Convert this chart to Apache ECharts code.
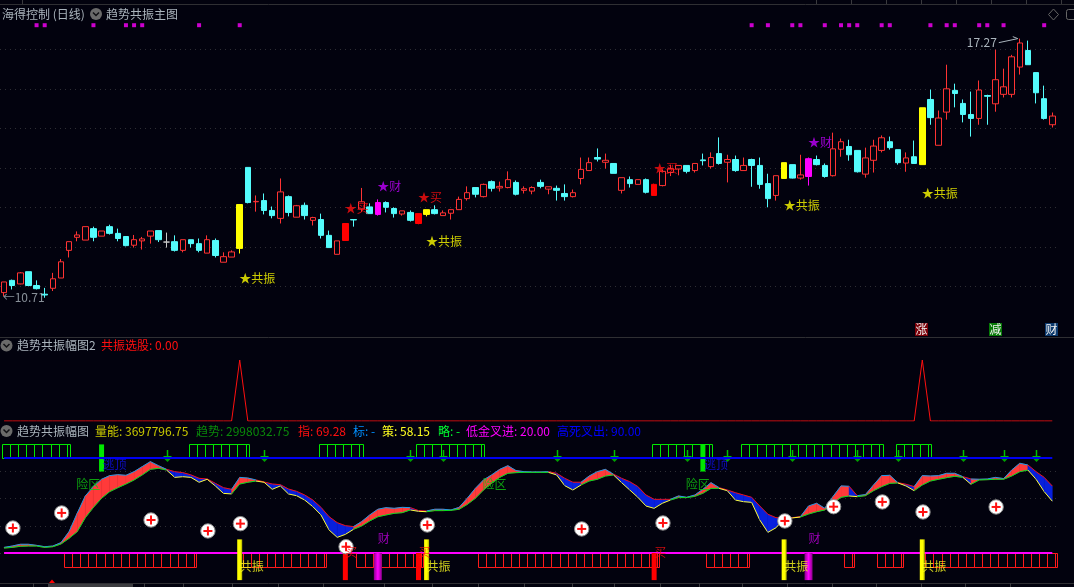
<!DOCTYPE html>
<html>
<head>
<meta charset="utf-8">
<script src="https://cdn.jsdelivr.net/npm/echarts@6/dist/echarts.min.js"></script>
<style>html,body{margin:0;padding:0;background:#02020e;overflow:hidden}#c{width:1074px;height:587px}</style>
</head>
<body>
<div id="c"></div>
<script>
// daily candles: [open, close, low, high]
const dailyCandles = [
[10.84,11.11,10.75,11.11],[11.15,11.02,10.92,11.17],[11.06,11.34,11.05,11.36],[11.37,11.02,11.0,11.37],[11.02,10.94,10.92,11.15],
[10.80,10.78,10.71,10.96],[10.95,11.19,10.88,11.34],[11.21,11.62,11.21,11.69],[11.91,12.13,11.73,12.13],[12.24,12.30,12.14,12.39],
[12.17,12.51,12.17,12.51],[12.46,12.24,12.14,12.51],[12.27,12.40,12.27,12.40],[12.51,12.34,12.31,12.56],[12.34,12.21,12.14,12.46],
[12.26,12.03,12.01,12.26],[12.04,12.18,11.98,12.30],[12.15,12.20,11.93,12.25],[12.27,12.40,12.08,12.40],[12.41,12.18,12.12,12.41],
[12.12,12.12,11.98,12.36],[12.13,11.91,11.88,12.29],[11.91,12.18,11.86,12.18],[12.18,12.08,11.98,12.18],[12.08,11.91,11.86,12.21],
[11.84,12.18,11.84,12.29],[12.16,11.78,11.73,12.21],[11.61,11.75,11.61,11.86],[11.74,11.87,11.74,11.91],[11.96,13.07,11.83,13.07],
[14.01,13.12,13.10,14.01],[13.14,13.15,12.89,13.30],[13.17,12.92,12.82,13.35],[12.92,12.79,12.72,13.02],[12.72,13.39,12.59,13.73],
[13.27,12.87,12.77,13.30],[12.75,13.04,12.75,13.06],[13.05,12.79,12.69,13.12],[12.67,12.74,12.54,12.76],[12.69,12.29,12.21,12.84],
[12.29,11.98,11.98,12.41],[11.81,12.15,11.81,12.15],[12.16,12.59,12.16,12.59],[12.69,12.68,12.51,12.69],[12.96,13.14,12.88,13.49],
[13.01,12.84,12.84,13.10],[12.82,13.12,12.79,13.20],[13.12,13.0,12.87,13.15],[12.97,12.84,12.74,13.0],[12.83,12.91,12.79,12.91],
[12.87,12.67,12.64,12.92],[12.59,12.84,12.57,12.84],[12.82,12.94,12.77,12.94],[12.94,12.84,12.82,13.05],[12.79,12.86,12.79,12.92],
[12.85,12.94,12.69,12.94],[12.94,13.20,12.94,13.27],[13.22,13.37,13.17,13.53],[13.50,13.33,13.25,13.50],[13.27,13.58,13.25,13.60],
[13.65,13.48,13.40,13.68],[13.49,13.53,13.40,13.65],[13.50,13.70,13.48,13.91],[13.63,13.33,13.30,13.68],[13.43,13.47,13.35,13.53],
[13.41,13.50,13.33,13.53],[13.63,13.53,13.48,13.70],[13.46,13.52,13.33,13.52],[13.48,13.43,13.17,13.55],[13.35,13.27,13.17,13.58],
[13.27,13.37,13.25,13.45],[13.73,13.96,13.58,14.26],[13.93,14.13,13.93,14.26],[14.26,14.22,14.16,14.49],[14.14,14.19,13.98,14.36],
[14.11,13.86,13.86,14.11],[13.43,13.75,13.35,13.75],[13.70,13.60,13.50,13.78],[13.58,13.70,13.58,13.70],[13.70,13.38,13.35,13.73],
[13.30,13.58,13.30,13.60],[13.55,13.91,13.53,13.96],[13.88,13.98,13.79,14.08],[13.97,14.06,13.81,14.06],[14.06,13.91,13.86,14.06],
[13.93,14.11,13.88,14.11],[14.20,14.18,14.06,14.36],[14.03,14.26,13.98,14.39],[14.36,14.11,14.08,14.77],[14.14,14.21,13.63,14.33],
[14.21,13.93,13.90,14.31],[13.93,14.06,13.93,14.26],[14.21,14.06,13.52,14.23],[14.06,13.58,13.47,14.26],[13.60,13.22,13.0,13.85],
[13.30,13.80,13.17,13.80],[13.73,14.13,13.73,14.13],[14.08,13.74,13.73,14.08],[13.74,13.82,13.70,14.33],[13.78,14.23,13.55,14.26],
[14.21,14.08,14.06,14.31],[14.06,13.78,13.75,14.11],[13.80,14.48,13.78,14.89],[14.47,14.66,14.28,14.74],[14.54,14.33,14.18,14.71],
[14.44,13.90,13.88,14.44],[13.84,14.25,13.75,14.51],[14.19,14.55,13.88,14.71],[14.44,14.76,14.39,14.82],[14.66,14.51,14.46,14.79],
[14.46,14.13,14.08,14.46],[14.12,14.25,13.90,14.39],[14.28,14.11,14.11,14.69],[14.08,15.52,14.08,15.52],[15.73,15.27,15.09,15.98],
[14.57,15.26,14.57,15.45],[15.41,16.0,15.22,16.61],[15.96,15.88,15.53,16.13],[15.63,15.35,15.15,15.73],[15.35,15.25,14.79,15.93],
[15.25,15.97,15.09,16.21],[15.83,15.81,15.09,15.85],[15.62,16.23,15.42,16.99],[15.86,16.05,15.78,16.51],[15.86,16.81,15.78,16.86],
[16.55,17.16,16.36,17.27],[16.97,16.61,16.61,17.22],[16.41,15.90,15.63,16.41],[15.75,15.25,15.22,16.08],[15.09,15.31,15.02,15.40]
];
const days = dailyCandles.map((_, i) => String(i));

const yellowDays = [29, 52, 96, 113];
const magentaDays = [46, 99];
const solidRedDays = [42, 51, 80];
const flatDays = [20];

// marks on the main chart
const topDotDays = [4,5,11,15,16,17,24,29,92,94,97,98,101,103,104,105,108,109,114,116,117,120,121,123,128];
const topDotPrice = 17.61;
const resonanceSignals = [[29,11.21],[52,12.13],[96,13.04],[113,13.35]];
const buySignals = [[42,12.98],[51,13.24],[80,13.99]];
const wealthSignals = [[46,13.52],[99,14.64]];
const peakDay = 125, peakPrice = 17.27, troughDay = 5, troughPrice = 10.71;

// middle pane
const resonancePickDays = [29, 113];

// lower pane: ribbon [upper, lower]
const ribbonBands = [
[24.1,23.6],[25.1,24.1],[26.4,24.9],[26.4,25.1],[25.6,25.1],[24.6,24.1],[25.1,24.6],[27.6,26.6],[35.7,30.8],[49.2,35.7],
[62,46],[68.9,53.6],[74.3,60.3],[77,65.2],[77.7,68.1],[77.2,70.8],[79.9,73.8],[83.6,77.5],[87.3,81.6],[84.3,82.4],
[81.6,81.1],[79.9,75.7],[79.2,76.2],[77.5,75.7],[75,72.1],[74.5,74.3],[71.3,69.4],[68.1,63.9],[66.9,63.5],[75.7,70.8],
[75.2,72.1],[73.8,73],[72.3,72.1],[70.8,66.9],[70.3,69.4],[67.1,63.5],[65.4,62.2],[62.7,59],[59,54.1],[53.6,48],
[46.7,36.9],[42.3,31.5],[40.1,33.7],[39.4,37.4],[43.1,39.9],[48,43.6],[52.2,46.7],[53.4,48],[52.9,49.2],[53.6,49.7],
[53.4,51.7],[51.2,50.7],[50.9,50.4],[52.2,51.2],[52.2,51.2],[51.7,51.4],[53.6,52.2],[60.3,55.8],[67.6,60.3],[73.8,66.4],
[77.5,71.3],[81.6,75.7],[84.3,78.7],[80.7,79.2],[79.9,79.4],[79.7,79.4],[79.7,79.4],[79.9,79.4],[78.7,77.5],[75,69.6],
[72.1,66.4],[72.1,70.1],[76.7,73],[79.9,74.3],[81.6,76.7],[78,77.5],[75,71.8],[72.5,66.4],[68.9,61],[62.7,54.6],
[59.5,52.9],[59.5,56.6],[59.5,59],[62,60.8],[61,60.8],[62.7,61.7],[66.9,64],[71.8,67.6],[68.1,67.6],[66.4,65.9],
[64.4,59],[62.7,57.8],[61,57.3],[54.6,44.3],[48.5,35.2],[46,38.6],[45.8,45.3],[46,45.8],[46.7,46.5],[54.6,48.7],
[56.6,50.4],[52.9,51.7],[61.5,56.6],[69.4,61],[69.1,62],[62.2,61.5],[63,62.2],[70.1,65.9],[77,68.9],[77.2,71.3],
[71.8,71.6],[70.6,69.4],[68.9,65.9],[77,70.1],[76.7,73],[77,74.3],[78.7,75.5],[78.7,76.5],[76.2,75.7],[74.5,70.6],
[74.3,73.8],[74.5,74],[75.7,74.3],[74.8,74.3],[81.1,76.7],[86.1,79.9],[84.8,81.1],[79.9,74.3],[75.7,65.2],[69.28,58.15]
];
const ribbonBlueRuns = [[21,28],[32,43],[51,52],[68,71],[76,82],[89,98],[105,105],[111,112],[119,119],[127,129]];
const highDeathCross = 90, lowGoldenCross = 20;
const dangerZoneDays = [10, 60, 85];
const escapeTopDays = [12, 86];
const greenBoxRuns = [[0,8],[23,30],[39,44],[51,59],[80,87],[91,108],[110,114]];
const redBoxRuns = [[7,23],[29,39],[43,51],[58,80],[86,91],[103,104],[107,110],[113,129]];
const arrowDays = [20,32,50,54,68,75,84,89,97,105,110,118,123,127];
const plusPoints = [[1,38.4],[7,49.5],[18,44.3],[25,36.2],[29,41.6],[42,24.6],[52,40.6],[71,37.7],[81,42.1],[96,43.6],[102,54.1],[108,57.6],[113,50.2],[122,53.9]];

// header readouts
const volumeEnergy = '3697796.75', trendEnergy = '2998032.75', indexValue = '69.28', tacticValue = '58.15';

const BG = '#02020e', RED = '#ff3333', CYAN = '#54fcfc', YELLOW = '#ffff00', MAGENTA = '#ff00ff';
const FONT = '"Noto Sans CJK SC","Noto Sans",sans-serif';
const band = 1049 / 129, gridLeft = 3.3 - band / 2, gridWidth = band * 130;

const candleData = dailyCandles.map((v, i) => {
  let col = null;
  if (yellowDays.includes(i)) col = YELLOW;
  else if (magentaDays.includes(i)) col = MAGENTA;
  else if (solidRedDays.includes(i)) col = '#ff0000';
  else if (flatDays.includes(i)) col = '#c8c8c8';
  return col ? { value: v, itemStyle: { color: col, color0: col, borderColor: col, borderColor0: col, borderColorDoji: col } } : { value: v };
});

const isBlue = i => ribbonBlueRuns.some(r => i >= r[0] && i <= r[1]);

function xAx(g) { return { type: 'category', gridIndex: g, data: days, show: false, boundaryGap: true }; }
function dotted(on) {
  return { show: on, showMinLine: false, showMaxLine: false, lineStyle: { color: '#2e2e34', type: [1, 4], width: 1 } };
}
function tag(grid, points, text, color, offset, pos) {
  return {
    type: 'scatter', xAxisIndex: grid, yAxisIndex: grid, symbolSize: 1, z: 20, silent: true,
    itemStyle: { color: 'rgba(0,0,0,0)' }, data: points,
    label: { show: true, position: pos || 'inside', distance: 0, offset: offset || [0, 0], formatter: text, color: color, fontFamily: FONT, fontSize: 12 }
  };
}
function boxRuns(runs, top, bottom, color, leftOff, closeOff, z) {
  const rows = [];
  runs.forEach(r => { for (let k = r[0]; k <= r[1]; k++) rows.push([k, k < r[1] ? k + 1 : -1]); });
  return {
    type: 'custom', xAxisIndex: 2, yAxisIndex: 2, z: z, silent: true, data: rows, encode: { x: 0 },
    renderItem(p, api) {
      const k = api.value(0), nx = api.value(1);
      const a = api.coord([k, top]), b = api.coord([k, bottom]);
      const l = Math.round(a[0] + leftOff) + .5;
      const r = nx >= 0 ? Math.round(api.coord([nx, top])[0] + leftOff) + .5 : Math.round(a[0] + closeOff) + .5;
      return { type: 'rect', shape: { x: l, y: Math.round(a[1]) + .5, width: r - l, height: Math.round(b[1] - a[1]) }, style: { fill: 'none', stroke: color, lineWidth: 1 } };
    }
  };
}
function solidBars(list, top, bottom, fill, w, z) {
  return {
    type: 'custom', xAxisIndex: 2, yAxisIndex: 2, z: z || 8, silent: true, data: list.map(k => [k]), encode: { x: 0 },
    renderItem(p, api) {
      const k = api.value(0), a = api.coord([k, top]), b = api.coord([k, bottom]);
      return { type: 'rect', shape: { x: a[0] - w / 2, y: a[1], width: w, height: b[1] - a[1] }, style: { fill: fill } };
    }
  };
}
function flatLine(value, color, z) {
  return { type: 'line', xAxisIndex: 2, yAxisIndex: 2, data: days.map(() => value), symbol: 'none', z: z, silent: true, lineStyle: { color: color, width: 2 } };
}
function txt(x, y, text, color, extra) {
  return { type: 'text', x: x, y: y, silent: true, z: 50, style: Object.assign({ text: text, fill: color, font: '12px ' + FONT, textVerticalAlign: 'middle', verticalAlign: 'middle' }, extra || {}) };
}
function chevron(cx, cy) {
  return [
    { type: 'circle', z: 50, shape: { cx: cx, cy: cy, r: 6 }, style: { fill: '#6a6a6a' } },
    { type: 'polyline', z: 51, shape: { points: [[cx - 3, cy - 1.5], [cx, cy + 1.5], [cx + 3, cy - 1.5]] }, style: { stroke: '#101014', lineWidth: 1.5, fill: 'none' } }
  ];
}
function hline(y, x1, x2, color) { return { type: 'line', z: 2, shape: { x1: x1, y1: y, x2: x2, y2: y }, style: { stroke: color || '#2f2f33', lineWidth: 1 } }; }
function vtick(x, y1, y2) { return { type: 'line', z: 2, shape: { x1: x, y1: y1, x2: x, y2: y2 }, style: { stroke: '#3a3a3e', lineWidth: 1 } }; }
function badge(x, text, fill) {
  return [
    { type: 'rect', z: 50, shape: { x: x, y: 323, width: 13, height: 13 }, style: { fill: fill } },
    txt(x + 6.5, 329.5, text, '#f0f0f0', { align: 'center', textAlign: 'center' })
  ];
}

const GRAY = '#aab4bc';
const headerColors = ['#c8c800', '#0a8a0a', '#ff1010', '#0090ff', '#ffff20', '#00ff30', '#ff00ff', '#0000ff'];
const graphicItems = [
  hline(4.5, 0, 1074), hline(337.5, 0, 1074), hline(583.5, 0, 1074),
  vtick(22.5, 0, 4), ...[816.5, 851.5, 886.5, 921.5, 956.5, 991.5, 1026.5, 1061.5].map(x => vtick(x, 0, 4)),
  ...[33, 144, 183, 232, 278, 323, 384, 432, 478, 524, 572, 614, 660, 699, 742, 787, 832, 876, 921, 965, 1010].map(x => vtick(x + .5, 583, 587)),
  { type: 'rect', z: 3, shape: { x: 48, y: 584, width: 85, height: 3 }, style: { fill: '#3c3c40' } },
  txt(56, 592, '2023/04/24/一', '#e8e8e8'),
  { type: 'polygon', z: 4, shape: { points: [[49, 583], [52, 579.5], [55, 583]] }, style: { fill: '#ff0000' } },
  txt(2, 14, '海得控制 (日线)', GRAY),
  ...chevron(96, 14),
  txt(106, 14, '趋势共振主图', GRAY),
  { type: 'polygon', z: 50, shape: { points: [[1053.5, 9], [1058.5, 14.5], [1053.5, 20], [1048.5, 14.5]] }, style: { fill: 'none', stroke: '#666', lineWidth: 1 } },
  { type: 'rect', z: 50, shape: { x: 1066.5, y: 9.5, width: 12, height: 10, r: 2 }, style: { fill: 'none', stroke: '#666', lineWidth: 1 } },
  ...badge(915, '涨', '#7a0008'), ...badge(989, '减', '#067a06'), ...badge(1045, '财', '#0c3a6e'),
  ...chevron(6.5, 345.5),
  txt(17, 345.5, '趋势共振幅图2', GRAY),
  txt(101, 345.5, '共振选股: 0.00', '#ff0f0f'),
  ...chevron(6.5, 431),
  txt(17, 431, '趋势共振幅图', GRAY),
  txt(95, 431, '量能: ' + volumeEnergy, headerColors[0]),
  txt(196, 431, '趋势: ' + trendEnergy, headerColors[1]),
  txt(298, 431, '指: ' + indexValue, headerColors[2]),
  txt(353, 431, '标: -', headerColors[3]),
  txt(382, 431, '策: ' + tacticValue, headerColors[4]),
  txt(438, 431, '略: -', headerColors[5]),
  txt(466, 431, '低金叉进: 20.00', headerColors[6]),
  txt(557, 431, '高死叉出: 90.00', headerColors[7])
];

const option = {
  animation: false,
  backgroundColor: BG,
  grid: [
    { left: gridLeft, width: gridWidth, top: 9.8, height: 316 },
    { left: gridLeft, width: gridWidth, top: 360, height: 61 },
    { left: gridLeft, width: gridWidth, top: 444.4, height: 135.7 }
  ],
  xAxis: [xAx(0), xAx(1), xAx(2)],
  yAxis: [
    { type: 'value', gridIndex: 0, min: 10, max: 18, interval: 1, axisLine: { show: false }, axisTick: { show: false }, axisLabel: { show: false }, splitLine: dotted(true) },
    { type: 'value', gridIndex: 1, min: 0, max: 1, axisLine: { show: false }, axisTick: { show: false }, axisLabel: { show: false }, splitLine: { show: false } },
    { type: 'value', gridIndex: 2, min: 0, max: 100, interval: 20, axisLine: { show: false }, axisTick: { show: false }, axisLabel: { show: false }, splitLine: dotted(true) }
  ],
  graphic: graphicItems,
  series: [
    {
      type: 'candlestick', xAxisIndex: 0, yAxisIndex: 0, barWidth: 6, z: 5, silent: true, data: candleData,
      itemStyle: { color: BG, color0: CYAN, borderColor: RED, borderColor0: CYAN, borderColorDoji: RED, borderWidth: 1 }
    },
    { type: 'scatter', xAxisIndex: 0, yAxisIndex: 0, symbol: 'rect', symbolSize: 4, silent: true, itemStyle: { color: MAGENTA }, data: topDotDays.map(k => [k, topDotPrice]) },
    tag(0, resonanceSignals, '★共振', YELLOW, [-1, 0], 'right'),
    tag(0, buySignals, '★买', '#ff0f0f', [-1, 0], 'right'),
    tag(0, wealthSignals, '★财', '#c000ff', [-1, 0], 'right'),
    {
      type: 'custom', xAxisIndex: 0, yAxisIndex: 0, z: 20, silent: true, data: [[peakDay, peakPrice]], encode: { x: 0, y: 1 },
      renderItem(p, api) {
        const c = api.coord([api.value(0), api.value(1)]);
        return { type: 'group', children: [
          { type: 'text', style: { x: c[0] - 23, y: c[1] + 4, text: String(peakPrice), fill: GRAY, font: '12px ' + FONT, align: 'right', textAlign: 'right', verticalAlign: 'middle', textVerticalAlign: 'middle' } },
          { type: 'polyline', shape: { points: [[c[0] - 21, c[1] + 4], [c[0] - 2, c[1]], [c[0] - 7, c[1] - 2]] }, style: { stroke: GRAY, fill: 'none', lineWidth: 1 } }
        ] };
      }
    },
    tag(0, [[troughDay, troughPrice]], '←' + troughPrice, GRAY, [-21, 0], 'inside'),

    { type: 'line', xAxisIndex: 1, yAxisIndex: 1, symbol: 'none', silent: true, lineStyle: { color: '#ff1010', width: 1 },
      data: days.map((_, i) => resonancePickDays.includes(i) ? 1 : 0) },

    boxRuns(greenBoxRuns, 100, highDeathCross, '#00e800', -2.3, 1, 3),
    boxRuns(redBoxRuns, lowGoldenCross, 10, '#ff1a1a', 3, 5, 3),
    {
      type: 'custom', xAxisIndex: 2, yAxisIndex: 2, z: 4, silent: true, data: ribbonBands.map((b, i) => [i, b[0], b[1]]), encode: { x: 0, y: [1, 2] },
      renderItem(p, api) {
        const i = api.value(0);
        if (i === 0) return { type: 'group', children: [] };
        const pb = ribbonBands[i - 1];
        const u0 = api.coord([i - 1, pb[0]]), l0 = api.coord([i - 1, pb[1]]);
        const u1 = api.coord([i, api.value(1)]), l1 = api.coord([i, api.value(2)]);
        const blue = isBlue(i);
        return { type: 'group', children: [
          { type: 'polygon', shape: { points: [u0, u1, l1, l0] }, style: { fill: blue ? '#0820dc' : '#ff3a3a', stroke: blue ? '#0820dc' : '#ff3a3a', lineWidth: .5 } },
          { type: 'line', shape: { x1: u0[0], y1: u0[1], x2: u1[0], y2: u1[1] }, style: { stroke: blue ? '#f01010' : '#1a9ce8', lineWidth: 1 } },
          { type: 'line', shape: { x1: l0[0], y1: l0[1], x2: l1[0], y2: l1[1] }, style: { stroke: blue ? '#ffff30' : '#00e020', lineWidth: 1 } }
        ] };
      }
    },
    solidBars(escapeTopDays, 100, 80, '#00e800', 5, 7),
    flatLine(highDeathCross, '#0000f0', 9),
    flatLine(lowGoldenCross, '#ff00ff', 9),
    {
      type: 'custom', xAxisIndex: 2, yAxisIndex: 2, z: 10, silent: true, data: arrowDays.map(k => [k, highDeathCross]), encode: { x: 0, y: 1 },
      renderItem(p, api) {
        const c = api.coord([api.value(0), api.value(1)]), x = Math.round(c[0]) + .5, y = c[1];
        return { type: 'group', children: [
          { type: 'line', shape: { x1: x, y1: y - 8, x2: x, y2: y - 1 }, style: { stroke: '#00c000', lineWidth: 1.5 } },
          { type: 'line', shape: { x1: x - 4, y1: y - 1.5, x2: x + 4, y2: y - 1.5 }, style: { stroke: '#00c000', lineWidth: 1 } },
          { type: 'polygon', shape: { points: [[x - 3, y + 1], [x + 3, y + 1], [x, y + 4]] }, style: { fill: '#00a000' } }
        ] };
      }
    },
    solidBars(solidRedDays, lowGoldenCross, 0, '#ff0000', 5, 11),
    solidBars(yellowDays, 30, 0, { type: 'linear', x: 0, y: 0, x2: 1, y2: 0, colorStops: [{ offset: 0, color: '#ffff00' }, { offset: .6, color: '#ffff00' }, { offset: 1, color: '#a8a800' }] }, 5, 11),
    solidBars(magentaDays, lowGoldenCross, 0, { type: 'linear', x: 0, y: 0, x2: 1, y2: 0, colorStops: [{ offset: 0, color: '#8a008a' }, { offset: .5, color: '#ff00ff' }, { offset: 1, color: '#8a008a' }] }, 8, 11),
    {
      type: 'custom', xAxisIndex: 2, yAxisIndex: 2, z: 12, silent: true, data: plusPoints, encode: { x: 0, y: 1 },
      renderItem(p, api) {
        const c = api.coord([api.value(0), api.value(1)]), x = c[0] + .7, y = c[1];
        return { type: 'group', children: [
          { type: 'circle', shape: { cx: x, cy: y, r: 7.2 }, style: { fill: '#ffffff', stroke: '#8a8a8a', lineWidth: 1 } },
          { type: 'rect', shape: { x: x - 4.5, y: y - 1, width: 9, height: 2 }, style: { fill: '#ff1010' } },
          { type: 'rect', shape: { x: x - 1, y: y - 4.5, width: 2, height: 9 }, style: { fill: '#ff1010' } }
        ] };
      }
    },
    tag(2, solidRedDays.map(k => [k, 20.7]), '买', '#ff1010', [6, 0]),
    tag(2, magentaDays.map(k => [k, 31]), '财', '#c000e0', [6, 0]),
    tag(2, yellowDays.map(k => [k, 9.7]), '共振', '#ffff20', [12, 0]),
    tag(2, dangerZoneDays.map(k => [k, 70.8]), '险区', '#10c810', [3, 0]),
    tag(2, escapeTopDays.map(k => [k, 85.6]), '逃顶', '#1010f0', [13, 0])
  ]
};
const chart = echarts.init(document.getElementById('c'), null, { renderer: 'canvas' });
chart.setOption(option);
</script>
</body>
</html>
